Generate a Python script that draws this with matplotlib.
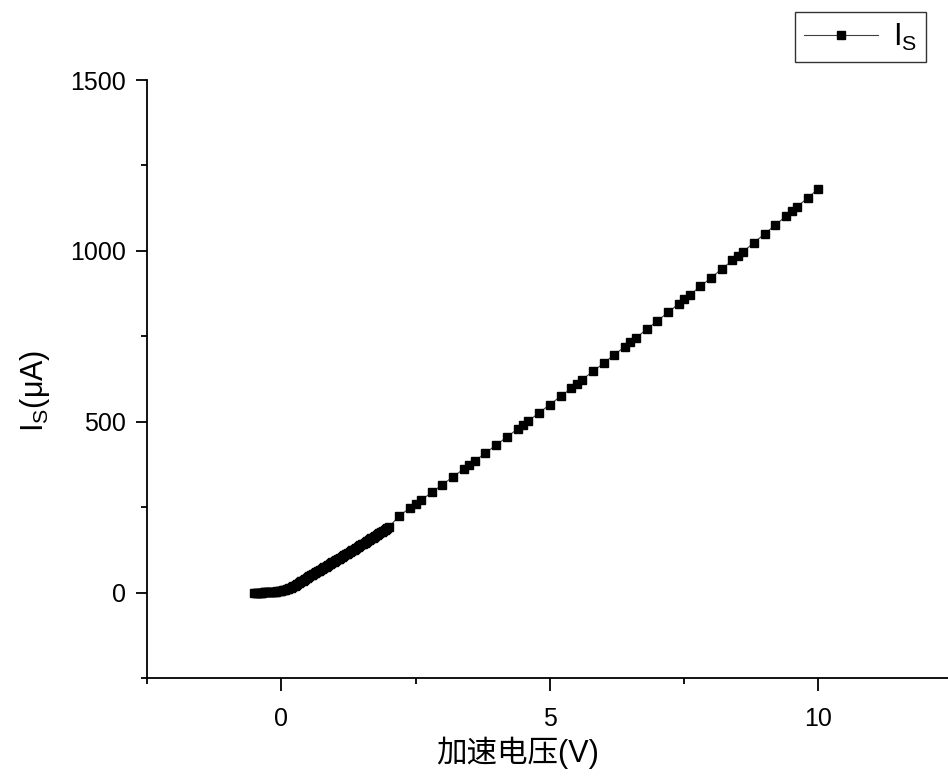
import matplotlib
matplotlib.use("Agg")
import matplotlib.pyplot as plt
from matplotlib.ticker import MultipleLocator

# Accelerating voltage (V) and current Is (uA)
# dense low-voltage sweep
volt_low = [-0.5, -0.475, -0.45, -0.425, -0.4, -0.375, -0.35, -0.325, -0.3, -0.275,
            -0.25, -0.225, -0.2, -0.175, -0.15, -0.125, -0.1, -0.075, -0.05, -0.025,
            0.0, 0.025, 0.05, 0.075, 0.1, 0.125, 0.15, 0.175, 0.2, 0.225,
            0.25, 0.275, 0.3, 0.325, 0.35, 0.375, 0.4, 0.425, 0.45, 0.475,
            0.5, 0.525, 0.55, 0.575, 0.6, 0.625, 0.65, 0.675, 0.7, 0.725,
            0.75, 0.775, 0.8, 0.825, 0.85, 0.875, 0.9, 0.925, 0.95, 0.975,
            1.0, 1.025, 1.05, 1.075, 1.1, 1.125, 1.15, 1.175, 1.2, 1.225,
            1.25, 1.275, 1.3, 1.325, 1.35, 1.375, 1.4, 1.425, 1.45, 1.475,
            1.5, 1.525, 1.55, 1.575, 1.6, 1.625, 1.65, 1.675, 1.7, 1.725,
            1.75, 1.775, 1.8, 1.825, 1.85, 1.875, 1.9, 1.925, 1.95, 1.975, 2.0]
is_low = [0, 0, 0, 0, 0, 0, 0, 0.2, 0.5, 0.6,
          0.8, 1.0, 1.2, 1.5, 1.8, 2.2, 2.6, 3.2, 3.8, 4.6,
          5.5, 6.5, 7.5, 8.7, 10, 11.5, 13, 14.7, 16.5, 18.5,
          20.5, 22.7, 25, 27.5, 30, 32.5, 35, 37.5, 40, 42.5,
          45, 47.5, 50, 52.5, 55, 57.5, 60, 62.3, 64.5, 66.8,
          69, 71.5, 74, 76.2, 78.5, 80.8, 83, 85.5, 88, 90.2,
          92.5, 94.8, 97, 99.5, 102, 104.5, 107, 109.5, 112, 114.2,
          116.5, 118.8, 121, 123.5, 126, 128.5, 131, 133.5, 136, 138.5,
          141, 143.5, 146, 148.5, 151, 153.5, 156, 158.5, 161, 163.5,
          166, 168.5, 171, 173.5, 176, 178.5, 181, 183.5, 186, 188.5, 191]

# coarser sweep up to 10 V
volt_high = [2.2, 2.4, 2.5, 2.6, 2.8, 3.0, 3.2, 3.4, 3.5, 3.6, 3.8, 4.0,
             4.2, 4.4, 4.5, 4.6, 4.8, 5.0, 5.2, 5.4, 5.5, 5.6, 5.8, 6.0,
             6.2, 6.4, 6.5, 6.6, 6.8, 7.0, 7.2, 7.4, 7.5, 7.6, 7.8, 8.0,
             8.2, 8.4, 8.5, 8.6, 8.8, 9.0, 9.2, 9.4, 9.5, 9.6, 9.8, 10.0]
is_high = [225, 248, 259, 270, 293, 316, 339, 362, 373, 385, 408, 432,
           455, 479, 491, 502, 526, 550, 574, 598, 610, 623, 647, 671,
           696, 720, 733, 745, 770, 795, 820, 845, 858, 870, 896, 921,
           947, 972, 985, 998, 1024, 1050, 1076, 1102, 1116, 1129, 1155, 1182]

voltage = volt_low + volt_high
current = is_low + is_high

plt.rcParams.update({
    "font.family": ["Liberation Sans", "Noto Sans CJK SC", "DejaVu Sans"],
    "mathtext.fontset": "custom",
    "mathtext.rm": "Liberation Sans",
    "mathtext.it": "Liberation Sans",
    "mathtext.default": "regular",
    "xtick.labelsize": 18,
    "ytick.labelsize": 18,
    "axes.labelsize": 22,
})

fig = plt.figure(figsize=(9.48, 7.8), dpi=100)
ax = fig.add_axes([0.155, 0.1308, 0.85, 0.7666])

ax.plot(voltage, current, color="#404040", linewidth=0.8,
        marker="s", markersize=5.5, markerfacecolor="black",
        markeredgecolor="black", label=r"I$_S$")

ax.set_xlim(-2.5, 12.5)
ax.set_ylim(-250, 1500)
ax.xaxis.set_major_locator(MultipleLocator(5))
ax.xaxis.set_minor_locator(MultipleLocator(2.5))
ax.yaxis.set_major_locator(MultipleLocator(500))
ax.yaxis.set_minor_locator(MultipleLocator(250))

# only left and bottom axis lines, Origin style
ax.spines["top"].set_visible(False)
ax.spines["right"].set_visible(False)
for s in ("left", "bottom"):
    ax.spines[s].set_linewidth(1.3)
ax.tick_params(which="major", direction="out", length=8, width=1.3, pad=7)
ax.tick_params(which="minor", direction="out", length=4.5, width=1.3)
ax.tick_params(axis="x", which="major", length=9, pad=12)

ax.set_xlabel("加速电压(V)")
ax.xaxis.set_label_coords(0.46, -0.098)
ax.set_ylabel(r"I$_S$(μA)")
ax.yaxis.set_label_coords(-0.118, 0.48)

fig.legend(loc="center", bbox_to_anchor=(0.908, 0.9526), fontsize=22,
           frameon=True, fancybox=False, edgecolor="black",
           handlelength=2.4, borderpad=0.3, handletextpad=0.5,
           borderaxespad=0)

fig.savefig("out.png", dpi=100)
